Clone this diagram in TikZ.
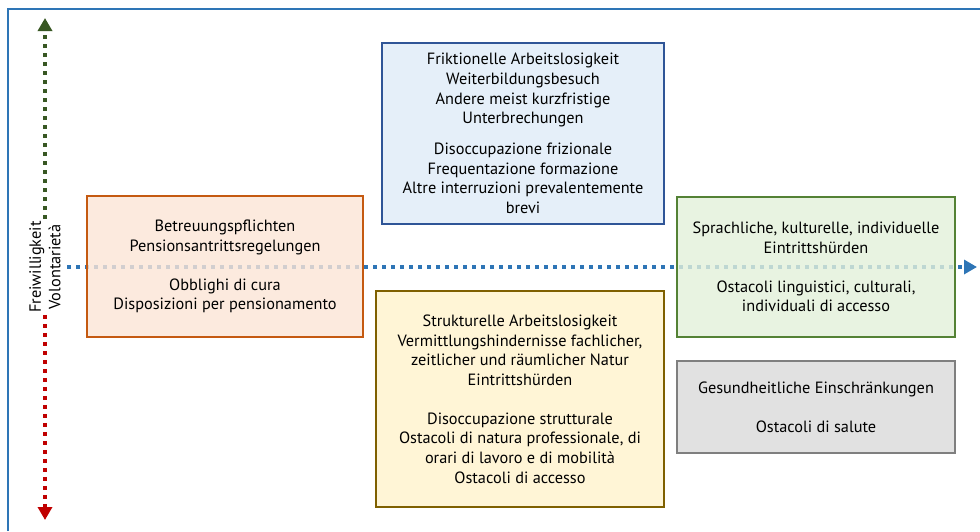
\documentclass[tikz,border=0pt]{standalone}
\usepackage{fontspec}
\setmainfont{PT Sans}
\usetikzlibrary{arrows.meta,calc}

\definecolor{axisblue}{HTML}{2E75B6}
\definecolor{axisgreen}{HTML}{385723}
\definecolor{axisred}{HTML}{C00000}
\definecolor{frizline}{HTML}{2F5597}
\definecolor{frizfill}{HTML}{DEEBF7}
\definecolor{careline}{HTML}{C55A11}
\definecolor{carefill}{HTML}{FBE5D6}
\definecolor{strucline}{HTML}{7F6000}
\definecolor{strucfill}{HTML}{FFF2CC}
\definecolor{lingline}{HTML}{548235}
\definecolor{lingfill}{HTML}{E2F0D9}
\definecolor{healthline}{HTML}{7F7F7F}
\definecolor{healthfill}{HTML}{D9D9D9}

\tikzset{
  dotaxis/.style={line width=4pt, dash pattern=on 4pt off 5pt,
    -{Triangle[length=13pt,width=14pt]}},
  txt/.style={align=center, font=\fontsize{16.3}{19.6}\selectfont},
  box/.style={txt, draw, line width=1.8pt, inner sep=0pt,
    fill opacity=0.8, text opacity=1},
}

\begin{document}
\begin{tikzpicture}[x=1pt,y=-1pt]
  \useasboundingbox (0,0) rectangle (980,531);
  % frame
  \draw [axisblue, line width=2.2pt] (8,531) -- (8,9) -- (980,9);

  % axes
  \coordinate(vtop) at (45,18);
  \coordinate(vbot) at (45,520);
  \coordinate(hleft) at (67,267);
  \coordinate(hright) at (977,267);
  \node [txt, rotate=90, inner sep=2pt] (vol) at (45,267) {Freiwilligkeit\\Volontarietà};
  \draw [dotaxis, axisgreen] (vol.east) -- (vtop);
  \draw [dotaxis, axisred] (vol.west) -- (vbot);
  \draw [dotaxis, axisblue] (hleft) -- (hright);

  % boxes
  \node [box, draw=frizline, fill=frizfill, minimum width=282, minimum height=181] (friz) at (523,133.5)
    {Friktionelle Arbeitslosigkeit\\Weiterbildungsbesuch\\Andere meist kurzfristige\\Unterbrechungen\\[11.5pt]
     Disoccupazione frizionale\\Frequentazione formazione\\Altre interruzioni prevalentemente\\brevi};
  \node [box, draw=careline, fill=carefill, minimum width=276, minimum height=141] (care) at (225,266.5)
    {Betreuungspflichten\\Pensionsantrittsregelungen\\[19.4pt]
     Obblighi di cura\\Disposizioni per pensionamento};
  \node [box, draw=strucline, fill=strucfill, minimum width=288, minimum height=216] (struc) at (520,399)
    {Strukturelle Arbeitslosigkeit\\Vermittlungshindernisse fachlicher,\\zeitlicher und räumlicher Natur\\Eintrittshürden\\[19.4pt]
     Disoccupazione strutturale\\Ostacoli di natura professionale, di\\orari di lavoro e di mobilità\\Ostacoli di accesso};
  \node [box, draw=lingline, fill=lingfill, minimum width=278, minimum height=140] (ling) at (816,267)
    {Sprachliche, kulturelle, individuelle\\Eintrittshürden\\[19.4pt]
     Ostacoli linguistici, culturali,\\individuali di accesso};
  \node [box, draw=healthline, fill=healthfill, minimum width=278, minimum height=92] (health) at (816,407)
    {Gesundheitliche Einschränkungen\\[19.4pt]Ostacoli di salute};
\end{tikzpicture}
\end{document}
